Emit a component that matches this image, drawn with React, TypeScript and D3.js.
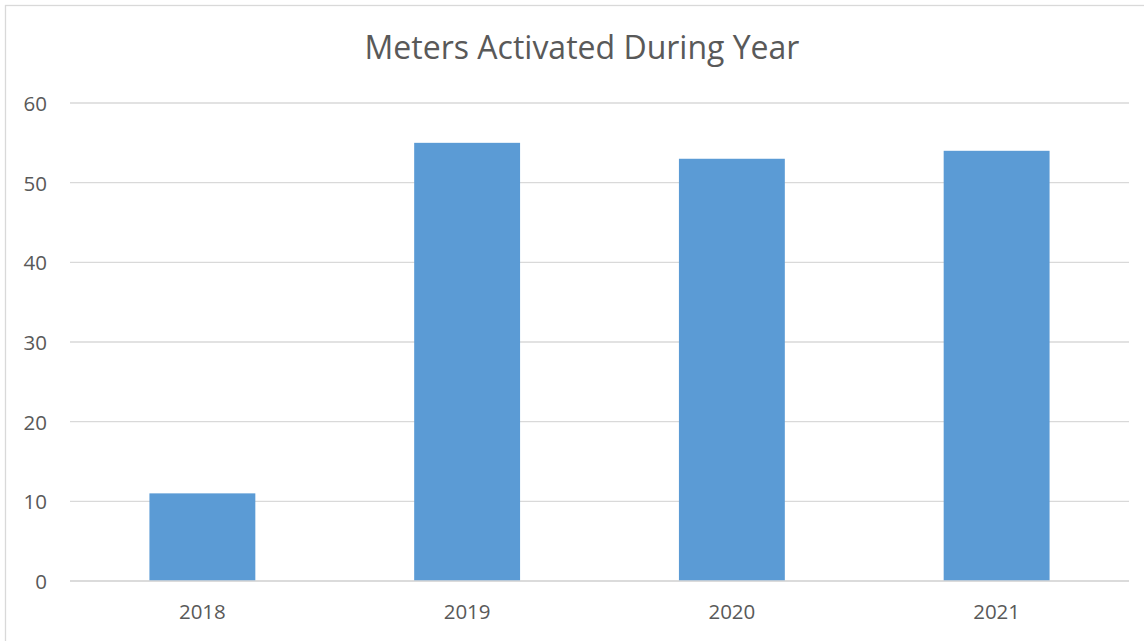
import React from "react";
import * as d3 from "d3";

const years = ["2018", "2019", "2020", "2021"];
const metersActivated = [11, 55, 53, 54];
const yTicks = [0, 10, 20, 30, 40, 50, 60];
const chartTitle = "Meters Activated During Year";

const W = 1144;
const H = 641;
const plot = { left: 70, right: 1129, top: 103, bottom: 581 };

export default function App() {
  const x = d3
    .scaleBand<string>()
    .domain(years)
    .range([plot.left, plot.right])
    .paddingInner(0.6)
    .paddingOuter(0.3);
  const y = d3.scaleLinear().domain([0, 60]).range([plot.bottom, plot.top]);
  const font = "'Open Sans', Calibri, sans-serif";
  const textColor = "#595959";

  return (
    <svg
      width={W}
      height={H}
      style={{ position: "absolute", left: 0, top: 0, background: "#fff" }}
    >
      <rect x={5.5} y={5.5} width={W + 10} height={H + 10} fill="#fff" stroke="#d9d9d9" strokeWidth={1.3} />
      <text
        x={582}
        y={50}
        textAnchor="middle"
        dominantBaseline="middle"
        fontFamily={font}
        fontSize={32}
        fill={textColor}
      >
        {chartTitle}
      </text>
      {yTicks.map((t) => (
        <g key={t}>
          <line
            x1={plot.left}
            x2={plot.right}
            y1={y(t)}
            y2={y(t)}
            stroke="#d9d9d9"
            strokeWidth={1.3}
          />
          <text
            x={47}
            y={y(t)}
            textAnchor="end"
            dominantBaseline="central"
            fontFamily={font}
            fontSize={20.5}
            fill={textColor}
          >
            {t}
          </text>
        </g>
      ))}
      {years.map((yr, i) => (
        <g key={yr}>
          <rect
            x={x(yr)!}
            y={y(metersActivated[i])}
            width={x.bandwidth()}
            height={y(0) - y(metersActivated[i])}
            fill="#5b9bd5"
          />
          <text
            x={x(yr)! + x.bandwidth() / 2}
            y={611}
            textAnchor="middle"
            dominantBaseline="central"
            fontFamily={font}
            fontSize={20.5}
            fill={textColor}
          >
            {yr}
          </text>
        </g>
      ))}
      <line x1={plot.left} x2={plot.right} y1={y(0)} y2={y(0)} stroke="#d9d9d9" strokeWidth={1.3} />
    </svg>
  );
}
